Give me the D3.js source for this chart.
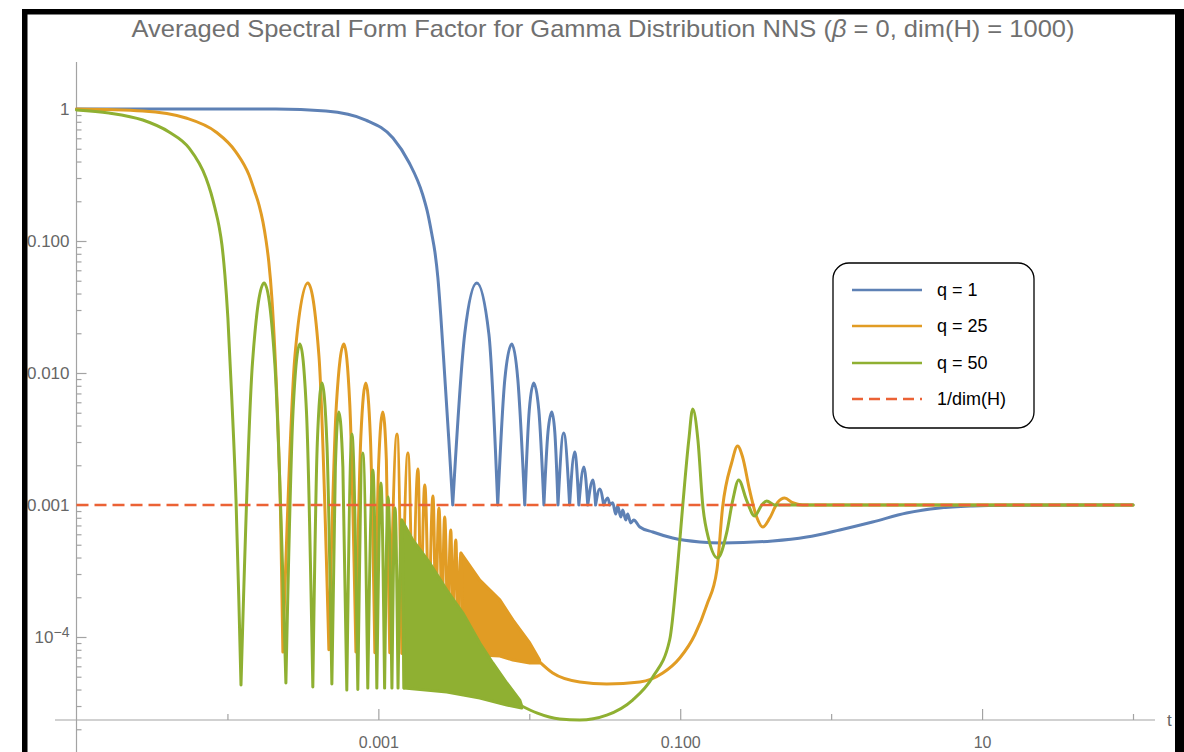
<!DOCTYPE html>
<html>
<head>
<meta charset="utf-8">
<script src="https://cdn.jsdelivr.net/npm/d3@7"></script>
<style>
body { margin: 0; background: #fff; }
svg { display: block; font-family: 'Liberation Sans', Arial, sans-serif; }
</style>
</head>
<body>
<div class="visContainer"></div>
<script>
// values: [t, SFF]
const seriesLabels = ['q = 1', 'q = 25', 'q = 50'];
const refLabel = '1/dim(H)';
const refLevel = 0.001;

// q = 1
const blueHead = [[1e-5,1],[2.09e-4,1],[4.49e-4,0.966],[8.26e-4,0.825],[1.25e-3,0.603],[1.59e-3,0.397],[1.97e-3,0.223],[2.13e-3,0.160],[2.26e-3,0.113],[2.37e-3,0.0825],[2.48e-3,0.0525],[2.59e-3,0.0275],[2.75e-3,0.00966],[2.93e-3,0.00311],[3.11e-3,0.001]];
const blueDips = [[3.11e-3,1e-3],[6.18e-3,1e-3],[9.33e-3,1e-3],[1.25e-2,1e-3],[1.55e-2,1e-3],[1.85e-2,1e-3],[2.13e-2,1e-3],[2.44e-2,1e-3],[2.75e-2,1e-3],[3.11e-2,1e-3],[3.41e-2,1e-3]];
// points inside each lobe, between two dips
const blueLobes = [
    [[3.74e-3,0.0201],[4.49e-3,0.0481],[5.40e-3,0.0197]],
    [[6.89e-3,0.00901],[7.66e-3,0.0166],[8.39e-3,0.00901]],
    [[1.0e-2,0.00525],[1.07e-2,0.0084],[1.156e-2,0.00525]],
    [[1.33e-2,0.00357],[1.41e-2,0.00507],[1.476e-2,0.00357]],
    [[1.69e-2,0.00351]],[[2.00e-2,0.00252]],[[2.30e-2,0.00194]],[[2.64e-2,0.00155]],[[2.93e-2,0.00132]],[[3.31e-2,0.00113]]
];
const blueTail = [[3.57e-2,0.00104],[3.74e-2,0.000855],[3.85e-2,0.000983],[4.04e-2,0.000811],[4.16e-2,0.000917],[4.36e-2,0.00077],[4.49e-2,0.000855],[4.70e-2,0.000731],[4.92e-2,0.00077],[5.40e-2,0.000681],[6.58e-2,0.000624],[8.91e-2,0.000562],[0.135,0.000525],[0.191,0.000516],[0.41,0.000534],[0.689,0.000572],[1.14,0.000647],[1.88,0.000743],[3.16,0.00087],[5.23,0.000949],[8.65,0.000983],[14.5,0.000995],[100,0.001]];

// q = 25
const orangeHead = [[1e-5,1],[2.75e-5,0.966],[5.31e-5,0.855],[8.39e-5,0.67],[1.14e-4,0.472],[1.39e-4,0.316],[1.52e-4,0.235],[1.62e-4,0.187],[1.72e-4,0.139],[1.80e-4,0.102],[1.88e-4,0.0693],[1.97e-4,0.037],[2.06e-4,0.0149],[2.16e-4,0.00404],[2.26e-4,0.000647],[2.33e-4,7.7e-5]];
const orangeDips = [[2.33e-4,7.7e-5],[4.70e-4,8.0e-5],[7.10e-4,7.7e-5],[9.48e-4,7.6e-5],[1.19e-3,7.6e-5],[1.43e-3,7.5e-5],[1.69e-3,7.5e-5],[1.91e-3,7.4e-5],[2.16e-3,7.4e-5],[2.40e-3,7.4e-5],[2.64e-3,7.3e-5],[2.88e-3,7.3e-5],[3.11e-3,7.3e-5],[3.36e-3,7.3e-5],[3.63e-3,7.3e-5]];
const orangeLobes = [
    [[2.80e-4,0.01345],[3.41e-4,0.0481],[4.04e-4,0.01345]],
    [[5.27e-4,0.00573],[5.91e-4,0.0166],[6.47e-4,0.00573]],
    [[7.66e-4,0.00333],[8.26e-4,0.0084],[8.85e-4,0.00333]],
    [[1.007e-3,0.00219],[1.07e-3,0.00507],[1.13e-3,0.00219]],
    [[1.33e-3,0.00345]],[[1.57e-3,0.00248]],[[1.83e-3,0.00187]],[[2.03e-3,0.00142]],[[2.30e-3,0.00117]],
    [[2.52e-3,0.000949]],[[2.75e-3,0.000811]],[[3.02e-3,0.000647]],[[3.26e-3,0.000543]],[[3.52e-3,0.000433]]
];
const orangeBandTop = [[3.52e-3,0.000433],[4.70e-3,0.00027],[6.38e-3,0.000191],[7.78e-3,0.000135],[1.007e-2,9.01e-5],[1.17e-2,6.7e-5]];
const orangeBandBottom = [[3.63e-3,7.3e-5],[4.70e-3,7.31e-5],[6.38e-3,7.18e-5],[7.78e-3,6.7e-5],[1.007e-2,6.36e-5],[1.17e-2,6.36e-5]];
const orangeTail = [[1.17e-2,6.47e-5],[1.43e-2,5.33e-5],[2.16e-2,4.56e-5],[3.26e-2,4.41e-5],[5.40e-2,4.56e-5],[7.66e-2,5.33e-5],[9.93e-2,6.93e-5],[0.125,1.04e-4],[0.150,1.75e-4],[0.175,3.22e-4],[0.191,9.66e-4],[0.219,2.08e-3],[0.240,2.80e-3],[0.259,2.31e-3],[0.288,1.30e-3],[0.321,8.11e-4],[0.352,6.81e-4],[0.392,7.97e-4],[0.443,1.05e-3],[0.492,1.13e-3],[0.556,1.04e-3],[0.647,1.0e-3],[100,1.0e-3]];

// q = 50
const greenHead = [[1e-5,0.983],[1.64e-5,0.933],[2.75e-5,0.825],[4.10e-5,0.67],[5.56e-5,0.507],[7.21e-5,0.3],[7.78e-5,0.231],[8.26e-5,0.178],[8.79e-5,0.130],[9.20e-5,0.0933],[9.62e-5,0.0553],[1.007e-4,0.0261],[1.07e-4,0.00624],[1.14e-4,0.00109],[1.19e-4,0.000191],[1.23e-4,4.33e-5]];
const greenDips = [[1.23e-4,4.33e-5],[2.44e-4,4.48e-5],[3.68e-4,4.18e-5],[4.92e-4,4.41e-5],[6.18e-4,3.97e-5],[7.31e-4,4.0e-5],[8.51e-4,4.1e-5],[9.77e-4,4.1e-5],[1.10e-3,4.1e-5],[1.23e-3,4.1e-5],[1.35e-3,4.1e-5],[1.48e-3,4.1e-5]];
const greenLobes = [
    [[1.465e-4,0.0119],[1.75e-4,0.0481],[2.06e-4,0.0119]],
    [[2.72e-4,0.00507],[3.02e-4,0.0166],[3.34e-4,0.00507]],
    [[3.94e-4,0.00295],[4.23e-4,0.0084],[4.56e-4,0.00295]],
    [[5.19e-4,0.00194],[5.47e-4,0.00507],[5.82e-4,0.00194]],
    [[6.68e-4,0.00345]],[[7.89e-4,0.00248]],[[9.20e-4,0.00184]],[[1.04e-3,0.00147]],[[1.16e-3,0.00115]],
    [[1.29e-3,0.000949]],[[1.43e-3,0.00077]]
];
const greenBandTop = [[1.43e-3,0.00077],[1.69e-3,0.000543],[2.19e-3,0.000364],[2.84e-3,0.000227],[3.63e-3,0.000152],[4.70e-3,9.01e-5],[5.73e-3,6.36e-5],[7.10e-3,4.48e-5],[8.65e-3,3.33e-5],[8.91e-3,3.0e-5]];
const greenBandBottom = [[1.48e-3,4.1e-5],[2.84e-3,3.83e-5],[4.70e-3,3.45e-5],[7.10e-3,3.05e-5],[8.91e-3,2.9e-5]];
const greenTail = [[8.91e-3,3.0e-5],[1.12e-2,2.66e-5],[1.59e-2,2.39e-5],[2.16e-2,2.35e-5],[3.26e-2,2.56e-5],[4.84e-2,3.33e-5],[6.58e-2,4.98e-5],[8.51e-2,9.49e-5],[9.62e-2,3.51e-4],[0.104,1.0e-3],[0.114,3.11e-3],[0.121,5.33e-3],[0.131,3.11e-3],[0.141,1.0e-3],[0.155,5.43e-4],[0.177,3.97e-4],[0.203,6.14e-4],[0.223,1.09e-3],[0.244,1.55e-3],[0.275,1.09e-3],[0.311,8.26e-4],[0.347,1.0e-3],[0.374,1.07e-3],[0.423,1.0e-3],[0.477,1.0e-3],[100,1.0e-3]];

const xTickValues = [1e-4, 1e-3, 1e-2, 0.1, 1, 10, 100];
const xTickLabels = ['', '0.001', '', '0.100', '', '10', ''];
const yTickValues = [1, 0.1, 0.01, 0.001, 1e-4];
const yTickLabels = ['1', '0.100', '0.010', '0.001', '10^-4'];
const yAxisCross = 2.35e-5;

const colors = ['#5E81B5', '#E19C24', '#8FB032', '#EB6235'];

const width = 1184;
const height = 752;

const svg = d3.select('.visContainer')
              .append('svg')
              .attr('width', width)
              .attr('height', height);

const xScale = d3.scaleLog().domain([1e-5, 100]).range([76.5, 1133]);
const yScale = d3.scaleLog().domain([1e-3, 1]).range([505, 109]);

const line = d3.line()
               .x(d => xScale(d[0]))
               .y(d => yScale(d[1]))
               .curve(d3.curveMonotoneX);
const poly = d3.line()
               .x(d => xScale(d[0]))
               .y(d => yScale(d[1]));

// each lobe is its own piece so the dips stay sharp
function lobes(head, dips, inner, tail) {
    let segs = [head];
    inner.forEach((pts, i) => segs.push([dips[i]].concat(pts, [dips[i + 1]])));
    if (tail) segs.push(tail);
    return segs.map(s => line(s)).join('');
}

// axes
const axisColor = '#a3a3a3';
const labelColor = '#666';
const x0 = xScale(1e-5);
const yAxisY = yScale(yAxisCross);

svg.append('line')
   .attr('x1', x0).attr('x2', x0)
   .attr('y1', 62).attr('y2', height)
   .attr('stroke', axisColor).attr('stroke-width', 1.2);
svg.append('line')
   .attr('x1', 55).attr('x2', 1155)
   .attr('y1', yAxisY).attr('y2', yAxisY)
   .attr('stroke', axisColor).attr('stroke-width', 1.2);

const yMinor = d3.scaleLog().domain([2e-5, 1]).ticks()
                 .filter(v => Math.abs(Math.log10(v) - Math.round(Math.log10(v))) > 1e-6);

svg.append('g')
   .attr('transform', 'translate(' + x0 + ',0)')
   .call(d3.axisLeft(yScale).tickValues(yMinor).tickSizeInner(-5).tickSizeOuter(0).tickFormat(''))
   .call(g => g.select('.domain').remove())
   .call(g => g.selectAll('line').attr('stroke', axisColor).attr('stroke-width', 1.2));

const gy = svg.append('g')
   .attr('transform', 'translate(' + x0 + ',0)')
   .call(d3.axisLeft(yScale).tickValues(yTickValues).tickSizeInner(-10).tickSizeOuter(0).tickPadding(7)
           .tickFormat((d, i) => yTickLabels[i]))
   .call(g => g.select('.domain').remove())
   .call(g => g.selectAll('line').attr('stroke', axisColor).attr('stroke-width', 1.2));
gy.selectAll('text')
  .attr('fill', labelColor)
  .style('font-size', '17px')
  .each(function(d, i) {
      const lab = yTickLabels[i];
      if (lab.indexOf('^') > -1) {
          const parts = lab.split('^');
          const t = d3.select(this).text(parts[0]);
          t.append('tspan').attr('dy', '-0.45em').style('font-size', '14px')
           .text(parts[1].replace('-', '\u2212'));
      }
  });

const gx = svg.append('g')
   .attr('transform', 'translate(0,' + yAxisY + ')')
   .call(d3.axisBottom(xScale).tickValues(xTickValues).tickSizeOuter(0).tickPadding(11)
           .tickFormat((d, i) => xTickLabels[i]))
   .call(g => g.select('.domain').remove());
gx.selectAll('line')
  .attr('stroke', axisColor).attr('stroke-width', 1.2)
  .attr('y2', (d, i) => xTickLabels[i] ? -11 : -6);
gx.selectAll('text').attr('fill', labelColor).style('font-size', '16px');

svg.append('text')
   .attr('x', 1167).attr('y', yAxisY + 6)
   .attr('fill', labelColor).style('font-size', '17px')
   .text('t');

// curves: blue, orange, green, then the dashed reference on top
const plot = svg.append('g')
                .attr('fill', 'none')
                .attr('stroke-width', 3)
                .attr('stroke-linejoin', 'round')
                .attr('stroke-linecap', 'round');

plot.append('path')
    .attr('d', lobes(blueHead, blueDips, blueLobes, [blueDips[blueDips.length - 1]].concat(blueTail)))
    .attr('stroke', colors[0]);

plot.append('path')
    .attr('d', poly(orangeBandTop.concat(orangeBandBottom.slice().reverse())) + 'Z')
    .attr('fill', colors[1]).attr('stroke', colors[1]);
plot.append('path')
    .attr('d', lobes(orangeHead, orangeDips, orangeLobes, orangeTail))
    .attr('stroke', colors[1]);

plot.append('path')
    .attr('d', poly(greenBandTop.concat(greenBandBottom.slice().reverse())) + 'Z')
    .attr('fill', colors[2]).attr('stroke', colors[2]);
plot.append('path')
    .attr('d', lobes(greenHead, greenDips, greenLobes, greenTail))
    .attr('stroke', colors[2]);

plot.append('line')
    .attr('x1', xScale(1e-5)).attr('x2', xScale(100))
    .attr('y1', yScale(refLevel)).attr('y2', yScale(refLevel))
    .attr('stroke', colors[3])
    .attr('stroke-width', 2.6)
    .attr('stroke-linecap', 'butt')
    .attr('stroke-dasharray', '12,6');

// title
const title = svg.append('text')
   .attr('x', 603).attr('y', 37)
   .attr('text-anchor', 'middle')
   .attr('fill', '#707070')
   .style('font-size', '24px')
   .attr('textLength', 943)
   .attr('lengthAdjust', 'spacingAndGlyphs');
title.append('tspan').text('Averaged Spectral Form Factor for Gamma Distribution NNS (');
title.append('tspan').style('font-style', 'italic').text('\u03b2');
title.append('tspan').text(' = 0, dim(H) = 1000)');

// legend
const legend = svg.append('g');
legend.append('rect')
      .attr('x', 833).attr('y', 263)
      .attr('width', 201).attr('height', 165)
      .attr('rx', 16).attr('ry', 16)
      .attr('fill', '#fff').attr('stroke', '#000').attr('stroke-width', 1.3);

const legendLabels = seriesLabels.concat([refLabel]);
const legendY = [290, 326, 363, 399];
legendLabels.forEach((lab, i) => {
    legend.append('line')
          .attr('x1', 852).attr('x2', 922)
          .attr('y1', legendY[i]).attr('y2', legendY[i])
          .attr('stroke', colors[i]).attr('stroke-width', 2.6)
          .attr('stroke-dasharray', i === 3 ? '11,6' : null);
    legend.append('text')
          .attr('x', 937).attr('y', legendY[i] + 6)
          .attr('fill', '#000').style('font-size', '18px')
          .text(lab);
});

// black frame around the picture
svg.append('rect').attr('x', 22).attr('y', 9).attr('width', 5.5).attr('height', height).attr('fill', '#000');
svg.append('rect').attr('x', 22).attr('y', 9).attr('width', 1162).attr('height', 5.5).attr('fill', '#000');
svg.append('rect').attr('x', 1175).attr('y', 9).attr('width', 9).attr('height', height).attr('fill', '#000');
</script>
</body>
</html>
